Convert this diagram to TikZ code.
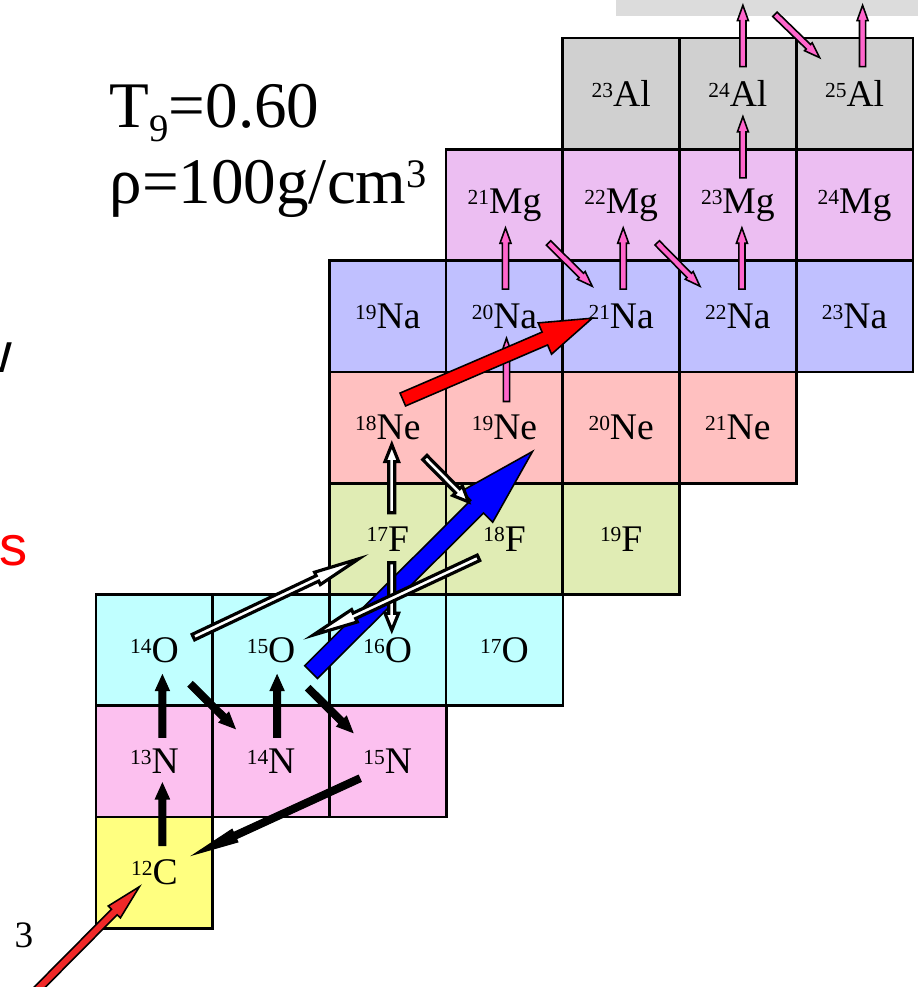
\documentclass[tikz,border=0pt]{standalone}
\usepackage{fontspec}
\setmainfont{Liberation Serif}
\newfontfamily\slidesans{Liberation Sans}
\usepackage{tikz}
\usetikzlibrary{calc}

\definecolor{rowC}{HTML}{FFFF80}
\definecolor{rowN}{HTML}{FCC0EF}
\definecolor{rowO}{HTML}{C0FFFF}
\definecolor{rowF}{HTML}{E0ECB4}
\definecolor{rowNe}{HTML}{FFC0C0}
\definecolor{rowNa}{HTML}{C0C0FF}
\definecolor{rowMg}{HTML}{ECBEF2}
\definecolor{rowAl}{HTML}{D0D0D0}
\definecolor{topbar}{HTML}{DCDCDC}
\definecolor{pinkarr}{HTML}{FF66CC}
\definecolor{alphared}{HTML}{F02828}

% nuclide label: small mass number in front of the symbol
\newcommand{\nuc}[2]{\raisebox{2.6pt}{\fontsize{6.1}{6}\selectfont #1}#2}
% flat arrow: [head fraction]{style}{shaft half width}{head half width}{from}{to}
\newcommand{\flowarrow}[6][0.25]{%
 \coordinate (fa-s) at #5;
 \coordinate (fa-e) at #6;
 \coordinate (fa-b) at ($(fa-e)!#1!(fa-s)$);
 \filldraw[#2] ($(fa-s)!#3!90:(fa-e)$) -- ($(fa-b)!#3!90:(fa-e)$) -- ($(fa-b)!#4!90:(fa-e)$) -- (fa-e)
 -- ($(fa-b)!#4!-90:(fa-e)$) -- ($(fa-b)!#3!-90:(fa-e)$) -- ($(fa-s)!#3!-90:(fa-e)$) -- cycle;}

\tikzset{
 nucbox/.style={draw=black,line width=0.75pt,minimum width=1.167cm,minimum height=1.113cm,inner sep=0pt,font=\fontsize{10.7}{12}\selectfont},
 blackflow/.style={fill=black,draw=black,line width=0.3pt,line join=miter},
 openflow/.style={fill=white,draw=black,line width=0.9pt,line join=miter},
 pinkflow/.style={fill=pinkarr,draw=black,line width=0.45pt,line join=miter},
 blueflow/.style={fill=blue,draw=black,line width=0.45pt,line join=miter},
 redflow/.style={fill=red,draw=black,line width=0.45pt,line join=miter},
 alphaflow/.style={fill=alphared,draw=black,line width=0.45pt,line join=miter}
}

\begin{document}
\begin{tikzpicture}[x=0.01cm,y=-0.01cm]
\useasboundingbox (0,0) rectangle (918,987);
% ---------- chart of nuclides
\fill[topbar] (616,0) rectangle (918,16);
\foreach \nm/\i/\j/\A/\el/\cl in {c12/0/0/12/C/rowC,
 n13/0/1/13/N/rowN, n14/1/1/14/N/rowN, n15/2/1/15/N/rowN,
 o14/0/2/14/O/rowO, o15/1/2/15/O/rowO, o16/2/2/16/O/rowO, o17/3/2/17/O/rowO,
 f17/2/3/17/F/rowF, f18/3/3/18/F/rowF, f19/4/3/19/F/rowF,
 ne18/2/4/18/Ne/rowNe, ne19/3/4/19/Ne/rowNe, ne20/4/4/20/Ne/rowNe, ne21/5/4/21/Ne/rowNe,
 na19/2/5/19/Na/rowNa, na20/3/5/20/Na/rowNa, na21/4/5/21/Na/rowNa, na22/5/5/22/Na/rowNa, na23/6/5/23/Na/rowNa,
 mg21/3/6/21/Mg/rowMg, mg22/4/6/22/Mg/rowMg, mg23/5/6/23/Mg/rowMg, mg24/6/6/24/Mg/rowMg,
 al23/4/7/23/Al/rowAl, al24/5/7/24/Al/rowAl, al25/6/7/25/Al/rowAl}
 \node[nucbox,fill=\cl] (\nm) at ({154.4+116.7*\i},{872.7-111.3*\j}) {\nuc{\A}{\el}};
\coordinate (si25) at (737.9,-17.7);
\coordinate (si26) at (854.6,-17.7);
\coordinate (tripalpha) at (20,1007);
% ---------- conditions and cut texts
\node[anchor=base west,inner sep=0pt,font=\fontsize{18.5}{20}\selectfont] (temp) at (109,127)
 {T\raisebox{-0.23em}{\fontsize{11}{11}\selectfont 9}=0.60};
\node[anchor=base west,inner sep=0pt,font=\fontsize{18.5}{20}\selectfont] (dens) at (109,203)
 {ρ=100g/cm\raisebox{0.24em}{\fontsize{11.5}{11}\selectfont 3}};
\node[anchor=base east,inner sep=0pt,font=\slidesans\fontsize{16}{18}\selectfont] (cutw) at (13,372) {w};
\node[anchor=base west,inner sep=0pt,text=red,font=\slidesans\fontsize{16}{18}\selectfont] (cuts) at (-1,565) {s};
\node[anchor=base west,inner sep=0pt,font=\fontsize{10.6}{12}\selectfont] (three) at (14,947) {3};
% ---------- flows
\foreach \src/\sx/\sy/\dst/\dx/\dy in {c12/8/-27/n13/8/22, n13/8/-24/o14/8/25, n14/6/-24/o15/6/25,
 o14/36/34/n14/-36/-33, o15/37/38/n15/-35/-29, n15/-28/17/c12/39/-18}
 \flowarrow{blackflow}{0.035cm}{0.07cm}{($(\src)+(\sx,\sy)$)}{($(\dst)+(\dx,\dy)$)};
\foreach \src/\sx/\sy/\dst/\dx/\dy in {ne19/2/-26/na20/2/22, na20/1/-27/mg21/1/23, na21/2/-27/mg22/2/23,
 na22/4/-27/mg23/4/23, mg21/44/38/na21/-29/-30, mg22/36/38/na22/-38/-30, mg23/5/-27/al24/5/23,
 al24/5/-27/si25/5/23, si25/37/32/al25/-35/-36, al25/8/-27/si26/8/23}
 \flowarrow{pinkflow}{0.031cm}{0.055cm}{($(\src)+(\sx,\sy)$)}{($(\dst)+(\dx,\dy)$)};
\flowarrow{blueflow}{0.09cm}{0.22cm}{($(o15)+(40,22)$)}{($(ne19)+(28,24)$)};
\foreach \src/\sx/\sy/\dst/\dx/\dy in {f17/4/-26/ne18/4/17, ne18/37/30/f18/-36/-37, f17/4/24/o16/4/-20,
 o14/39/-13/f17/-29/20, f18/-26/19/o15/42/-15}
 \flowarrow{openflow}{0.03cm}{0.068cm}{($(\src)+(\sx,\sy)$)}{($(\dst)+(\dx,\dy)$)};
\flowarrow{redflow}{0.07cm}{0.17cm}{($(ne18)+(15,-28)$)}{($(na21)+(-29,2)$)};
\flowarrow[0.21]{alphaflow}{0.04cm}{0.085cm}{(tripalpha)}{($(c12)+(-15,14)$)};
\end{tikzpicture}
\end{document}
